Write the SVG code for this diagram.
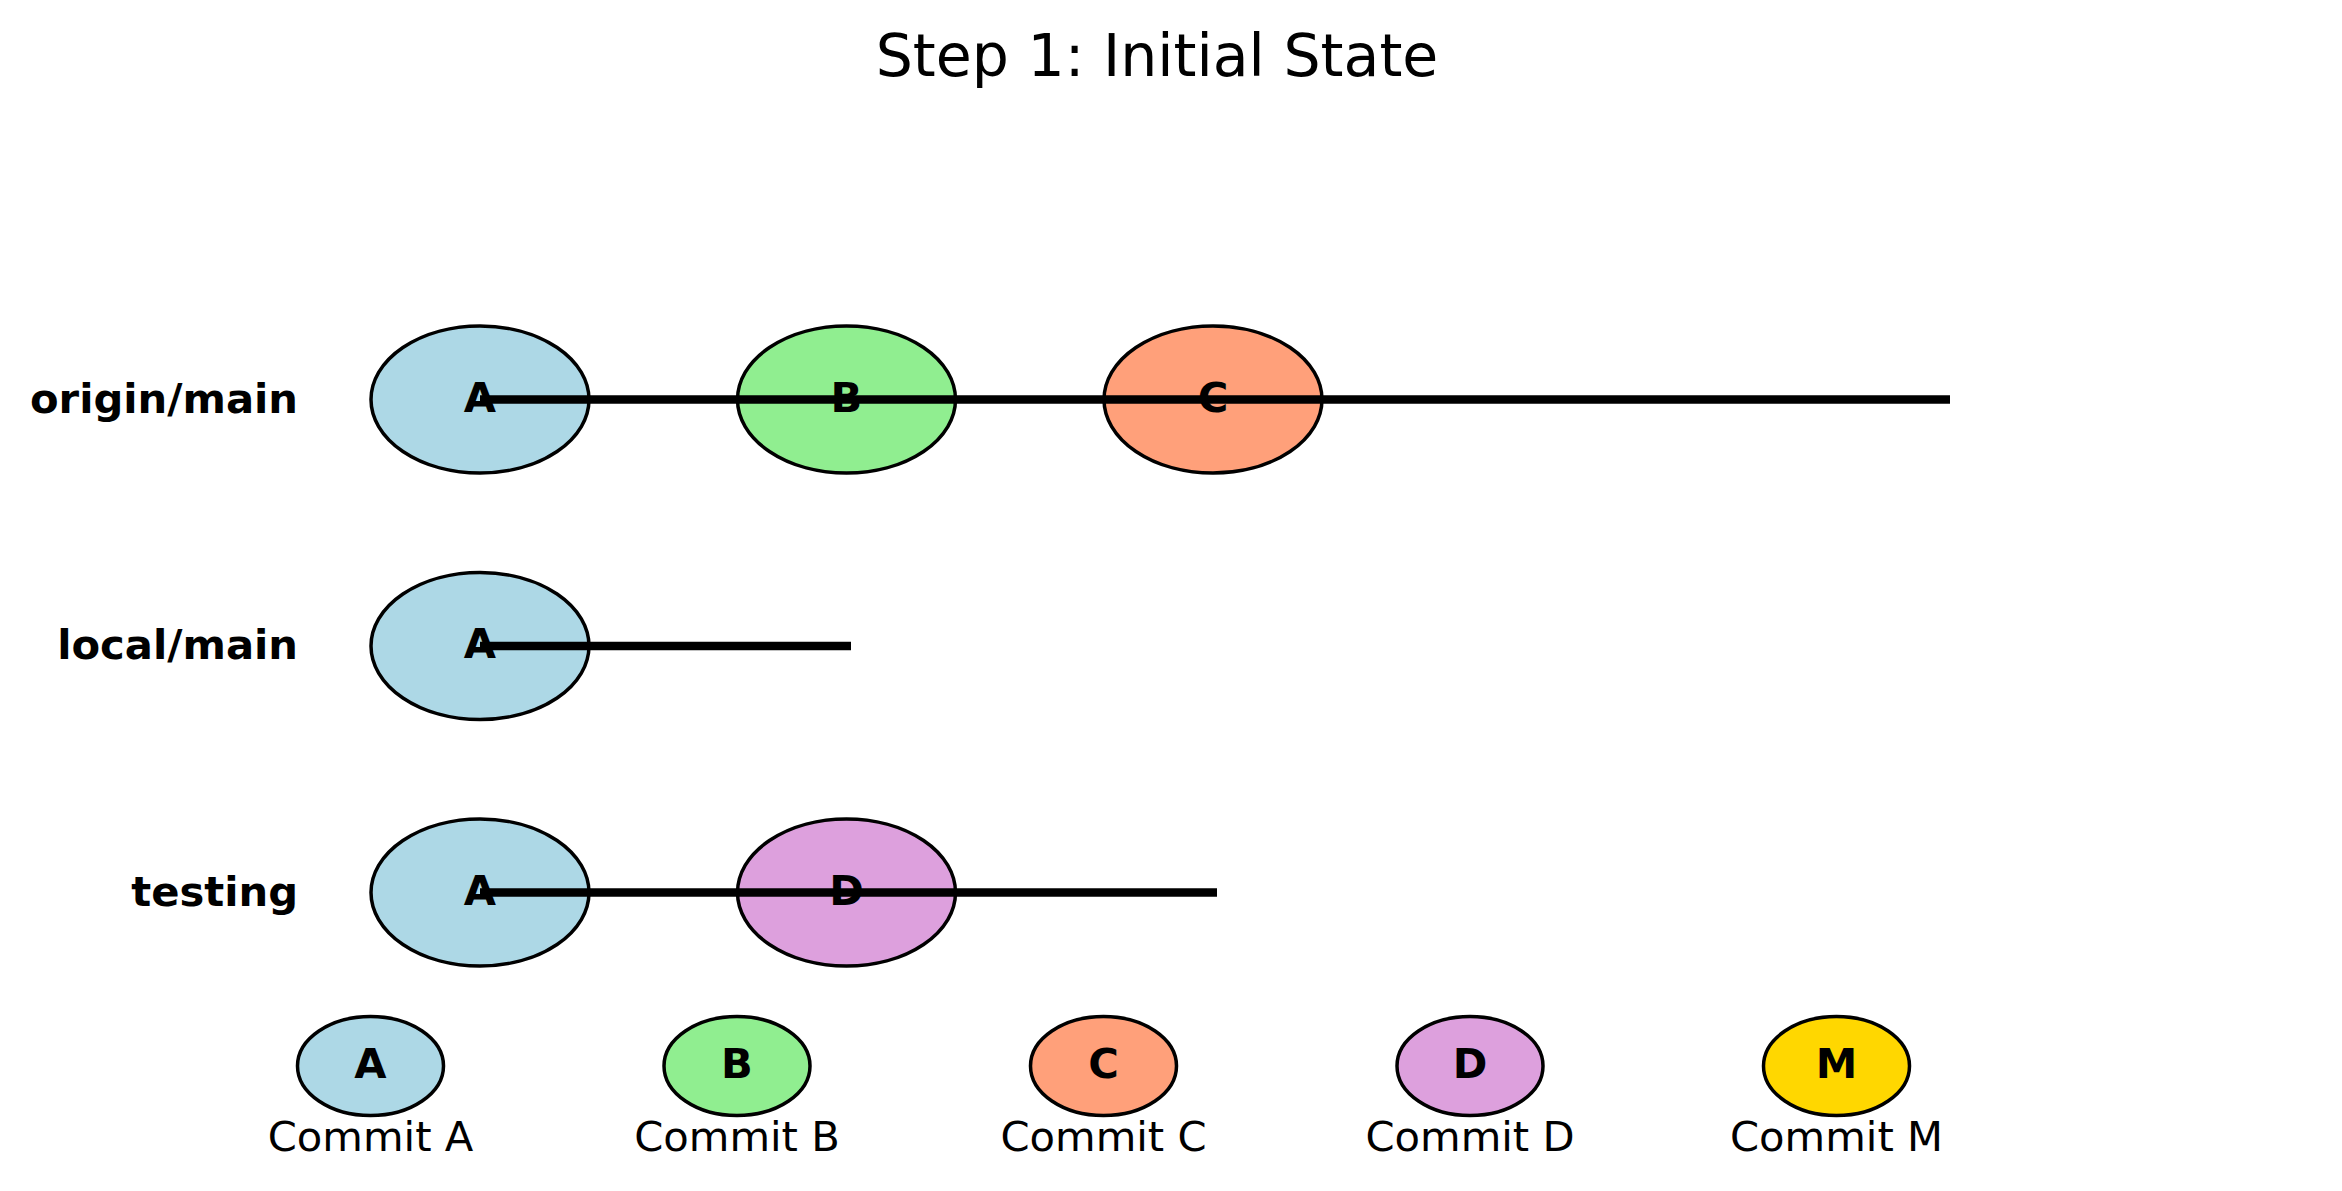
<svg xmlns="http://www.w3.org/2000/svg" width="2342" height="1191" viewBox="0 0 2342 1191">
<style>
text{font-family:"DejaVu Sans","Liberation Sans",sans-serif;fill:#000}
.title{font-size:58.5px;text-anchor:middle}
.row{font-size:41.7px;font-weight:bold;text-anchor:end}
.lbl{font-size:41.7px;font-weight:bold;text-anchor:middle}
.cap{font-size:41.7px;text-anchor:middle}
.n{stroke:#000;stroke-width:3.5}
.a{fill:#ADD8E6}.b{fill:#90EE90}.c{fill:#FFA07A}.d{fill:#DDA0DD}.m{fill:#FFD700}
.edge{stroke:#000;stroke-width:8.7;fill:none}
</style>
<rect width="2342" height="1191" fill="#fff"/>
<text class="title" x="1157" y="76">Step 1: Initial State</text>
<g id="row-labels">
<text class="row" x="298" y="412.7">origin/main</text>
<text class="row" x="298" y="659">local/main</text>
<text class="row" x="298" y="905.7">testing</text>
</g>
<g id="origin-A"><ellipse class="n a" cx="480" cy="399.5" rx="109" ry="73.5"/><text class="lbl" x="480" y="411.7">A</text></g>
<g id="origin-B"><ellipse class="n b" cx="846.5" cy="399.5" rx="109" ry="73.5"/><text class="lbl" x="846.5" y="411.7">B</text></g>
<g id="origin-C"><ellipse class="n c" cx="1213" cy="399.5" rx="109" ry="73.5"/><text class="lbl" x="1213" y="411.7">C</text></g>
<g id="local-A"><ellipse class="n a" cx="480" cy="646" rx="109" ry="73.5"/><text class="lbl" x="480" y="658.2">A</text></g>
<g id="testing-A"><ellipse class="n a" cx="480" cy="892.5" rx="109" ry="73.5"/><text class="lbl" x="480" y="904.7">A</text></g>
<g id="testing-D"><ellipse class="n d" cx="846.5" cy="892.5" rx="109" ry="73.5"/><text class="lbl" x="846.5" y="904.7">D</text></g>
<g id="connectors">
<line class="edge" x1="480" y1="399.5" x2="1950" y2="399.5"/>
<line class="edge" x1="480" y1="646" x2="851" y2="646"/>
<line class="edge" x1="480" y1="892.5" x2="1217" y2="892.5"/>
</g>
<g id="legend-A"><ellipse class="n a" cx="370.5" cy="1066" rx="73" ry="49.5"/><text class="lbl" x="370.5" y="1078.3">A</text><text class="cap" x="370.5" y="1151">Commit A</text></g>
<g id="legend-B"><ellipse class="n b" cx="737" cy="1066" rx="73" ry="49.5"/><text class="lbl" x="737" y="1078.3">B</text><text class="cap" x="737" y="1151">Commit B</text></g>
<g id="legend-C"><ellipse class="n c" cx="1103.5" cy="1066" rx="73" ry="49.5"/><text class="lbl" x="1103.5" y="1078.3">C</text><text class="cap" x="1103.5" y="1151">Commit C</text></g>
<g id="legend-D"><ellipse class="n d" cx="1470" cy="1066" rx="73" ry="49.5"/><text class="lbl" x="1470" y="1078.3">D</text><text class="cap" x="1470" y="1151">Commit D</text></g>
<g id="legend-M"><ellipse class="n m" cx="1836.5" cy="1066" rx="73" ry="49.5"/><text class="lbl" x="1836.5" y="1078.3">M</text><text class="cap" x="1836.5" y="1151">Commit M</text></g>
</svg>
